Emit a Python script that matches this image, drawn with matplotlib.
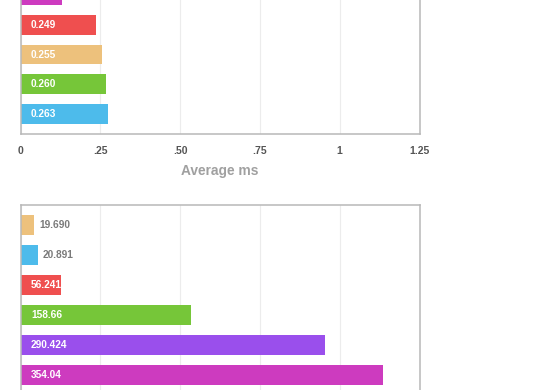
import matplotlib
matplotlib.use("Agg")
import matplotlib.pyplot as plt

plt.rcParams['font.family'] = ['Liberation Sans', 'DejaVu Sans']

# top chart (partly cut off at the top of the picture)
top_colors = ['#cd3bbf', '#ef4f4f', '#edc17c', '#76c639', '#4dbbeb']
top_values = [0.131, 0.2375, 0.256, 0.269, 0.275]
top_labels = ['', '0.249', '0.255', '0.260', '0.263']  # first label is off-picture
top_ticks = [0, 0.25, 0.5, 0.75, 1, 1.25]
top_ticklabels = ['0', '.25', '.50', '.75', '1', '1.25']

# bottom chart (cut off at the bottom)
bot_colors = ['#edc17c', '#4dbbeb', '#ef4f4f', '#76c639', '#9a4fec', '#cd3bbf']
bot_values = [13.1, 16.9, 38.4, 160.3, 286.0, 340.3]
bot_labels = ['19.690', '20.891', '56.241', '158.66', '290.424', '354.04']
bot_ticks = [0, 75, 150, 225, 300, 375]

SPINE = '#b8b8b8'
GRID = '#ececec'


def draw_bars(ax, values, labels, colors, ticks):
    n = len(values)
    pos = list(range(n))
    ax.barh(pos, values, height=2/3, color=colors, zorder=2)
    ax.set_ylim(n - 1 + 2/3, -2/3)
    ax.set_xlim(ticks[0], ticks[-1])
    ax.set_xticks(ticks)
    ax.set_yticks([])
    ax.grid(axis='x', color=GRID, linewidth=0.8, zorder=0)
    ax.tick_params(axis='x', length=0)
    for s in ax.spines.values():
        s.set_color(SPINE)
        s.set_linewidth(1.1)
    fig.canvas.draw()
    x0 = ax.transData.transform((0, 0))[0]
    for p, v, lab in zip(pos, values, labels):
        if not lab:
            continue
        w = ax.transData.transform((v, 0))[0] - x0
        if w >= 40:
            ax.annotate(lab, (0, p), xytext=(7.5, 0), textcoords='offset points',
                        va='center', ha='left', color='white', fontsize=7.3,
                        fontweight='bold', zorder=3)
        else:
            ax.annotate(lab, (v, p), xytext=(3.3, 0), textcoords='offset points',
                        va='center', ha='left', color='#7a7a7a', fontsize=7.3,
                        fontweight='bold', zorder=3)


fig = plt.figure(figsize=(5.6, 3.9), dpi=100)

ax1 = fig.add_axes([20.5 / 560, (390 - 134) / 390, 399 / 560, 159 / 390])
draw_bars(ax1, top_values, top_labels, top_colors, top_ticks)
ax1.set_xticklabels(top_ticklabels, fontsize=7.5, fontweight='bold', color='#555555')
ax1.tick_params(axis='x', pad=8.5)
ax1.set_xlabel('Average ms', fontsize=9.9, fontweight='bold', color='#a0a0a0', labelpad=6)

ax2 = fig.add_axes([20.5 / 560, (390 - 395) / 390, 399 / 560, 190 / 390])
draw_bars(ax2, bot_values, bot_labels, bot_colors, bot_ticks)
ax2.set_xticklabels([])

fig.savefig('out.png', dpi=100)
